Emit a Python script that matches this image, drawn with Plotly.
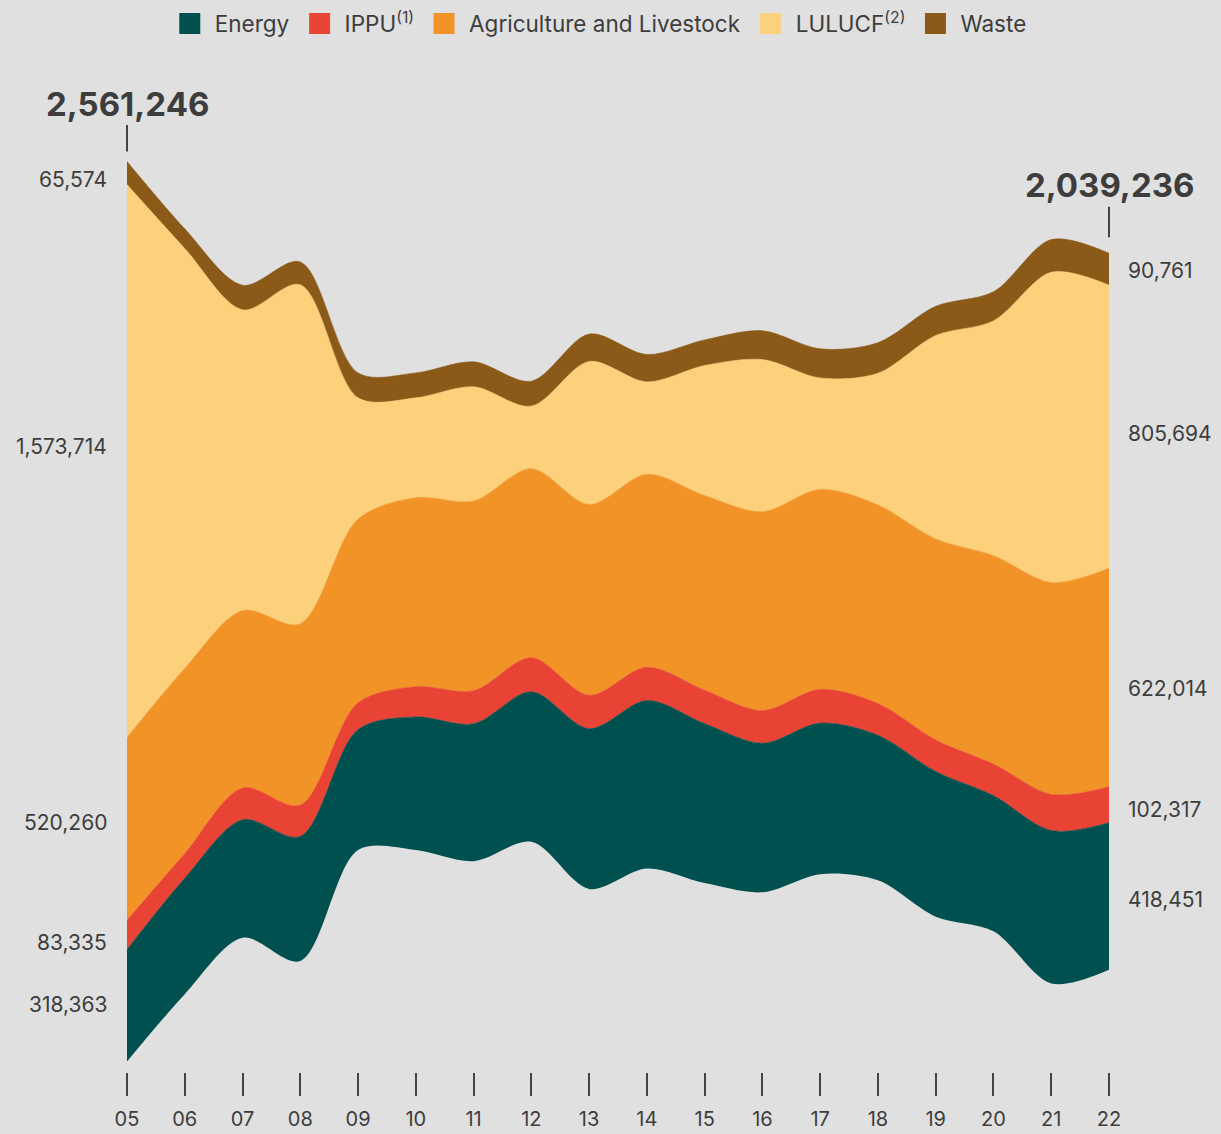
import plotly.graph_objects as go
import numpy as np

years = list(range(2005, 2023))
tick_labels = ["05", "06", "07", "08", "09", "10", "11", "12", "13",
               "14", "15", "16", "17", "18", "19", "20", "21", "22"]

energy = [318363, 330000, 336000, 355000, 343000, 379000, 391000, 427000, 456000,
          478000, 454000, 424000, 430000, 413000, 413000, 386000, 435000, 418451]
ippu = [83335, 70000, 90000, 89000, 76000, 86000, 94000, 97000, 95000,
        95000, 95000, 93000, 96000, 90000, 90000, 90000, 103000, 102317]
agri = [520260, 527000, 505000, 516000, 523000, 538000, 540000, 538000, 543000,
        549000, 554000, 566000, 569000, 565000, 572000, 593000, 603000, 622014]
lulucf = [1573714, 1195000, 856000, 965000, 345000, 284000, 325000, 178000, 407000,
          263000, 370000, 433000, 317000, 375000, 579000, 668000, 883000, 805694]
waste = [65574, 56000, 70000, 65000, 71000, 71000, 71000, 71000, 78000,
         78000, 73000, 82000, 83000, 87000, 83000, 83000, 93000, 90761]

total_labels = ["2,561,246", "2,039,236"]

names = ["Energy", "IPPU<sup>(1)</sup>", "Agriculture and Livestock", "LULUCF<sup>(2)</sup>", "Waste"]
colors = ["#00504f", "#e84335", "#f29327", "#fdd07b", "#8b5a18"]
series = [energy, ippu, agri, lulucf, waste]

# label vertical nudges (px) for left / right end labels, per series
left_nudge = [1, -8, 6, 15, -6]
right_nudge = [-3, -5, -11, -7, -1]

W, H = 1221, 1134
M_L, M_R, M_T, M_B = 127, 112, 50, 62
CENTER_PX = 611.5
UNITS_PER_PX = 2846.0
plot_top = M_T
plot_bot = H - M_B
y_range = [(CENTER_PX - plot_bot) * UNITS_PER_PX, (CENTER_PX - plot_top) * UNITS_PER_PX]

arr = np.array(series, dtype=float)
total = arr.sum(axis=0)
base = -total / 2.0
cum = base + np.cumsum(arr, axis=0)

TEXT = "#3d3d3d"
FONT = "Inter"
BG = "#e0e0e0"

fig = go.Figure()
fig.add_trace(go.Scatter(x=years, y=base, mode="lines",
                         line=dict(width=0, shape="spline", smoothing=0.9),
                         showlegend=False, hoverinfo="skip"))
for i, (nm, col) in enumerate(zip(names, colors)):
    fig.add_trace(go.Scatter(x=years, y=cum[i], mode="lines", fill="tonexty",
                             fillcolor=col,
                             line=dict(width=0.6, color=col, shape="spline", smoothing=0.9),
                             showlegend=False, name=nm, hoverinfo="skip"))
# legend swatches
for nm, col in zip(names, colors):
    fig.add_trace(go.Scatter(x=[None], y=[None], mode="markers",
                             marker=dict(symbol="square", size=16, color=col,
                                         line=dict(width=6, color=col)),
                             name=nm, showlegend=True))

annotations = []
lower = np.vstack([base, cum[:-1]])
for i in range(len(series)):
    for idx, side in [(0, "left"), (-1, "right")]:
        mid = (lower[i][idx] + cum[i][idx]) / 2.0
        ys = left_nudge[i] if side == "left" else right_nudge[i]
        annotations.append(dict(
            x=years[idx], y=mid, text=f"{series[i][idx]:,}", showarrow=False,
            xanchor="right" if side == "left" else "left",
            xshift=-18 if side == "left" else 17, yshift=ys,
            font=dict(family=FONT, size=21, color=TEXT)))

for idx, lbl, ay, so in [(0, total_labels[0], -58, 10), (-1, total_labels[1], -68, 16)]:
    top = cum[-1][idx]
    annotations.append(dict(x=years[idx], y=top, text=lbl, showarrow=True,
                            ax=0, ay=ay, arrowhead=0, arrowwidth=2,
                            arrowcolor="#444444", standoff=so,
                            font=dict(family=FONT, size=33, color=TEXT, weight=700)))

fig.update_layout(
    width=W, height=H,
    margin=dict(l=M_L, r=M_R, t=M_T, b=M_B, autoexpand=False),
    paper_bgcolor=BG, plot_bgcolor=BG,
    font=dict(family=FONT, color=TEXT),
    showlegend=True,
    legend=dict(orientation="h", xref="container", yref="container",
                x=0.490, y=0.998, xanchor="center", yanchor="top",
                traceorder="normal", itemwidth=40,
                font=dict(family=FONT, size=22.5, color=TEXT),
                bgcolor="rgba(0,0,0,0)", itemclick=False),
    xaxis=dict(range=[years[0], years[-1]], tickvals=years, ticktext=tick_labels,
               ticks="outside", ticklen=23, tickwidth=2, tickcolor="#444444",
               ticklabelstandoff=6, automargin=False,
               showgrid=False, zeroline=False, showline=False,
               tickfont=dict(family=FONT, size=20, color=TEXT)),
    yaxis=dict(range=y_range, visible=False, showgrid=False, zeroline=False,
               automargin=False),
    annotations=annotations,
)

fig.write_html("out.html", config={"displayModeBar": False},
               post_script="document.body.style.margin='0';document.body.style.background='%s';" % BG)
